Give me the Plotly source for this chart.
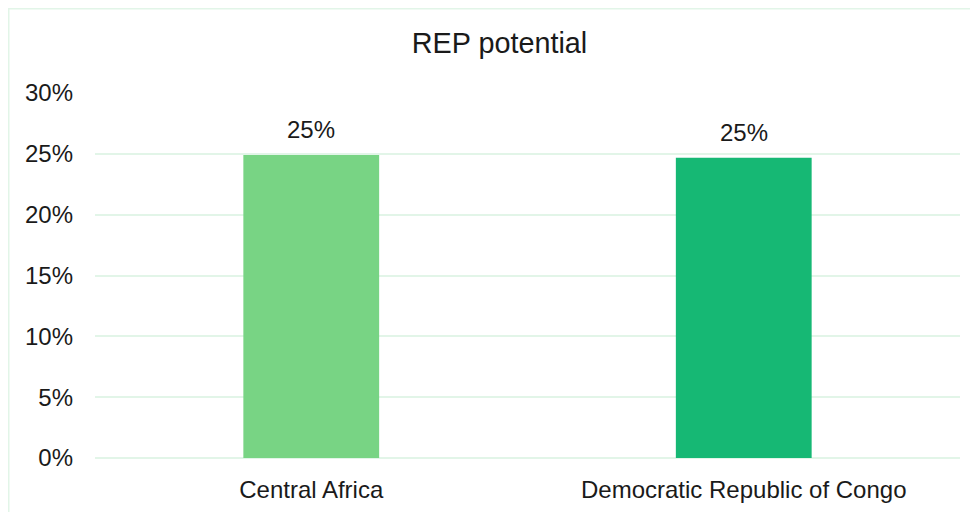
import plotly.graph_objects as go

categories = ["Central Africa", "Democratic Republic of Congo"]
values = [0.249, 0.2467]
bar_colors = ["#78d484", "#16b874"]
y_ticks = [0, 0.05, 0.10, 0.15, 0.20, 0.25, 0.30]
y_tick_labels = ["0%", "5%", "10%", "15%", "20%", "25%", "30%"]
title_text = "REP potential"

font_family = "Liberation Sans, Arial, sans-serif"
text_color = "#1a1a1a"
grid_color = "#e2f5e8"

ML, MR, MT, MB = 87, 26, 85, 62
PW, PH = 978 - ML - MR, 512 - MT - MB

fig = go.Figure()
fig.add_trace(go.Bar(
    x=categories,
    y=values,
    marker=dict(color=bar_colors, line=dict(width=0)),
    width=0.314,
    hoverinfo="skip",
))

for c, v in zip(categories, values):
    fig.add_annotation(
        x=c, y=v, xref="x", yref="y",
        text=f"{v*100:.0f}%",
        showarrow=False, yanchor="bottom", yshift=10,
        font=dict(family=font_family, size=24, color=text_color),
    )

# outer chart border (partially off-canvas like the reference)
fig.add_shape(
    type="rect", xref="paper", yref="paper",
    x0=(0.75 - ML) / PW, x1=(995 - ML) / PW,
    y0=-0.3, y1=1 + (MT - 0.75) / PH,
    line=dict(color=grid_color, width=1.5),
    fillcolor="rgba(0,0,0,0)", layer="below",
)

fig.update_layout(
    width=978, height=512,
    margin=dict(l=ML, r=MR, t=MT, b=MB, autoexpand=False),
    paper_bgcolor="white", plot_bgcolor="white",
    showlegend=False,
    title=dict(
        text=title_text, xref="container", yref="container",
        x=491.5 / 978, y=1 - 35 / 512, xanchor="center", yanchor="middle",
        font=dict(family=font_family, size=28.8, color=text_color),
    ),
    font=dict(family=font_family, size=24, color=text_color),
)
fig.update_xaxes(
    showgrid=False, showline=False, zeroline=False, ticks="",
    ticklabelstandoff=15,
    tickfont=dict(family=font_family, size=24, color=text_color),
)
fig.update_yaxes(
    range=[0, 0.30], tickvals=y_ticks, ticktext=y_tick_labels,
    showgrid=True, gridcolor=grid_color, gridwidth=1.5,
    zeroline=True, zerolinecolor=grid_color, zerolinewidth=1.5,
    showline=False, ticks="", ticklabelstandoff=21,
    tickfont=dict(family=font_family, size=24, color=text_color),
)

fig.write_html("out.html")
